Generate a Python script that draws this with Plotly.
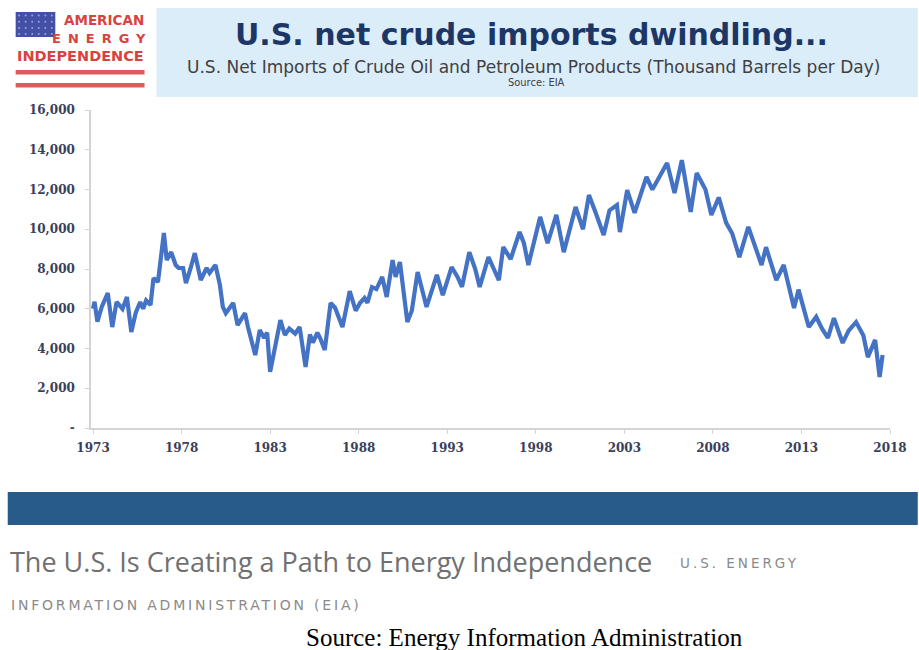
import plotly.graph_objects as go

# U.S. net imports of crude oil and petroleum products, thousand barrels per day
dates = [
    "1973-01", "1973-02", "1973-04", "1973-07", "1973-11", "1974-02", "1974-05", "1974-09", "1974-12",
    "1975-03", "1975-06", "1975-09", "1975-11", "1976-01", "1976-04", "1976-06", "1976-09",
    "1977-01", "1977-03", "1977-06", "1977-09", "1977-11", "1978-02", "1978-04", "1978-07", "1978-10",
    "1979-02", "1979-06", "1979-08", "1979-12", "1980-03", "1980-05", "1980-07", "1980-10", "1980-12",
    "1981-03", "1981-06", "1981-08", "1981-10", "1982-03", "1982-06", "1982-09", "1982-11",
    "1983-01", "1983-05", "1983-08", "1983-11", "1984-02", "1984-06", "1984-09",
    "1985-01", "1985-04", "1985-06", "1985-09", "1985-11", "1986-02", "1986-06", "1986-09",
    "1987-02", "1987-07", "1987-11", "1988-02", "1988-05", "1988-07", "1988-10",
    "1989-01", "1989-05", "1989-08", "1989-12", "1990-02", "1990-05", "1990-10",
    "1991-01", "1991-05", "1991-11", "1992-03", "1992-06", "1992-10",
    "1993-04", "1993-08", "1993-11", "1994-04", "1994-08", "1994-11",
    "1995-05", "1995-08", "1995-12", "1996-03", "1996-08", "1997-02", "1997-05", "1997-08",
    "1998-04", "1998-09", "1999-03", "1999-08", "2000-04", "2000-09",
    "2001-01", "2001-05", "2001-11", "2002-03", "2002-08", "2002-10",
    "2003-03", "2003-08", "2004-04", "2004-08", "2005-02", "2005-06", "2005-11",
    "2006-04", "2006-10", "2007-02", "2007-08", "2007-12", "2008-05", "2008-10",
    "2009-02", "2009-07", "2010-01", "2010-10", "2011-01", "2011-08", "2012-01", "2012-08", "2012-11",
    "2013-06", "2013-11", "2014-03", "2014-07", "2014-11", "2015-05", "2015-09",
    "2016-02", "2016-07", "2016-10", "2017-03", "2017-06", "2017-08",
]
net_imports = [
    6000, 6350, 5350, 6100, 6790, 5080, 6340, 5990, 6590,
    4830, 5800, 6340, 6000, 6420, 6190, 7540, 7350,
    9810, 8450, 8850, 8200, 8050, 8050, 7290, 8000, 8800,
    7440, 8050, 7800, 8200, 7200, 6090, 5780, 6100, 6290,
    5180, 5600, 5780, 5080, 3670, 4930, 4530, 4800,
    2820, 4300, 5430, 4680, 5000, 4750, 5080,
    3070, 4700, 4300, 4800, 4500, 3920, 6290, 6050,
    5080, 6890, 5900, 6300, 6540, 6300, 7090,
    6990, 7600, 6590, 8450, 7600, 8350, 5330,
    5900, 7850, 6090, 7000, 7700, 6690,
    8100, 7600, 7100, 8850, 8000, 7100,
    8600, 8100, 7440, 9100, 8500, 9860, 9300, 8200,
    10620, 9300, 10720, 8850, 11120, 10000,
    11720, 10950, 9710, 10950, 11220, 9860,
    11970, 10820, 12630, 12000, 12830, 13330, 11820,
    13480, 10870, 12830, 12000, 10720, 11600, 10320,
    9800, 8600, 10120, 8200, 9100, 7440, 8200, 6040, 6960,
    5080, 5590, 5000, 4530, 5530, 4280, 4900,
    5330, 4650, 3570, 4430, 2570, 3670,
]

y_ticks = [0, 2000, 4000, 6000, 8000, 10000, 12000, 14000, 16000]
y_tick_text = ["-", "2,000", "4,000", "6,000", "8,000", "10,000", "12,000", "14,000", "16,000"]
x_tick_years = [1973, 1978, 1983, 1988, 1993, 1998, 2003, 2008, 2013, 2018]

W, H = 919, 650
L, R, T, B = 91, 897, 110, 428   # plot area in pixels


def px(x):
    return (x - L) / (R - L)


def py(y):
    return (B - y) / (B - T)


fig = go.Figure()
fig.add_trace(go.Scatter(
    x=dates, y=net_imports, mode="lines",
    line=dict(color="#4472C4", width=4.2),
    hoverinfo="x+y", showlegend=False,
))

shapes = []
# title banner
shapes.append(dict(type="rect", xref="paper", yref="paper", x0=px(157), x1=px(925),
                   y0=py(97), y1=py(8), fillcolor="#dcedfa", line=dict(width=0), layer="below"))
# logo: flag field
shapes.append(dict(type="rect", xref="paper", yref="paper", x0=px(15), x1=px(55),
                   y0=py(37), y1=py(12), fillcolor="#4450a6", line=dict(width=0)))
for i in range(6):
    for j in range(4):
        cx, cy = 18.5 + i * 6.6, 15.5 + j * 6.2
        shapes.append(dict(type="circle", xref="paper", yref="paper",
                           x0=px(cx - 1), x1=px(cx + 1), y0=py(cy + 1), y1=py(cy - 1),
                           fillcolor="#9aa3da", line=dict(width=0)))
# logo: stripes
for y0, y1 in [(70, 74.5), (83, 87.5)]:
    shapes.append(dict(type="rect", xref="paper", yref="paper", x0=px(15), x1=px(145),
                       y0=py(y1), y1=py(y0), fillcolor="#df5b5b", line=dict(width=0)))
# dark band below the chart
shapes.append(dict(type="rect", xref="paper", yref="paper", x0=px(7), x1=px(925),
                   y0=py(525), y1=py(492), fillcolor="#285a8a", line=dict(width=0)))

annotations = []


def note(text, x, y, size, color, family, xanchor="center", bold=False, spacing=None):
    if spacing is not None:
        text = f'<span style="letter-spacing:{spacing}px">{text}</span>'
    annotations.append(dict(
        text=text, xref="paper", yref="paper", x=px(x), y=py(y),
        xanchor=xanchor, yanchor="middle", showarrow=False,
        font=dict(size=size, color=color, family=family, weight="bold" if bold else "normal"),
    ))


note("AMERICAN", 104, 20, 13.5, "#d8433f", "DejaVu Sans", bold=True)
note("ENERGY", 102, 39, 13, "#d8433f", "DejaVu Sans", bold=True, spacing=7)
note("INDEPENDENCE", 80, 56, 14.5, "#d8433f", "DejaVu Sans", bold=True)

note("U.S. net crude imports dwindling...", 535, 34, 30, "#1c3766", "DejaVu Sans", bold=True)
note("U.S. Net Imports of Crude Oil and Petroleum Products (Thousand Barrels per Day)",
     537, 67, 17, "#404040", "DejaVu Sans")
note("Source: EIA", 540, 83, 11, "#404040", "DejaVu Sans Condensed")

note("The U.S. Is Creating a Path to Energy Independence", 7, 561, 27, "#707070", "Open Sans",
     xanchor="left")
note("U.S. ENERGY", 683, 563, 13.5, "#8a8a8a", "DejaVu Sans", xanchor="left", spacing=3)
note("INFORMATION ADMINISTRATION (EIA)", 8, 605, 14, "#8a8a8a", "DejaVu Sans", xanchor="left",
     spacing=2.8)
note("Source: Energy Information Administration", 528, 637, 25, "#000000", "Liberation Serif")

tick_font = dict(family="DejaVu Serif", size=12, color="#3a3f5c", weight="bold")

fig.update_layout(
    width=W, height=H,
    margin=dict(l=L, r=W - R, t=T, b=H - B),
    paper_bgcolor="white", plot_bgcolor="white",
    shapes=shapes, annotations=annotations,
    xaxis=dict(
        type="date", range=["1972-11-20", "2018-01-01"],
        tickvals=[f"{y}-01-01" for y in x_tick_years],
        ticktext=[str(y) for y in x_tick_years],
        showgrid=False, zeroline=False,
        showline=True, linecolor="#d4d4d4", linewidth=1.5,
        ticks="outside", ticklen=4, tickcolor="#d4d4d4",
        ticklabelstandoff=4,
        tickfont=tick_font, fixedrange=True,
    ),
    yaxis=dict(
        range=[0, 16000], tickvals=y_ticks, ticktext=y_tick_text,
        showgrid=False, zeroline=False,
        showline=True, linecolor="#d4d4d4", linewidth=1.5,
        ticks="outside", ticklen=4, tickcolor="#d4d4d4",
        ticklabelstandoff=8,
        tickfont=tick_font, fixedrange=True,
    ),
)

fig.write_html("out.html")
